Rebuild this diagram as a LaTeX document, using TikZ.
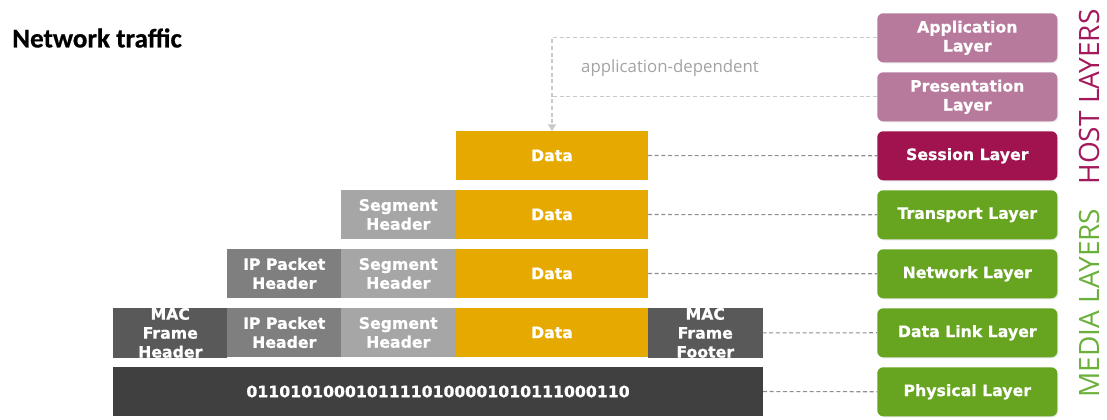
\documentclass[tikz,border=0pt]{standalone}
\usepackage{fontspec}
\setmainfont{DejaVu Sans}
\newfontfamily\boxfont{DejaVu Sans}[BoldFeatures={FakeBold=0.7}]
\newfontfamily\titlefont{Carlito}[BoldFeatures={FakeBold=0.6}]
\newfontfamily\thinfont{Open Sans}
\usetikzlibrary{arrows.meta,shadows}

\definecolor{datayellow}{HTML}{E5A900}
\definecolor{seggray}{HTML}{A6A6A6}
\definecolor{ipgray}{HTML}{7F7F7F}
\definecolor{macgray}{HTML}{595959}
\definecolor{physgray}{HTML}{404040}
\definecolor{hostpink}{HTML}{B77A9C}
\definecolor{sessionred}{HTML}{A0134F}
\definecolor{mediagreen}{HTML}{67A521}
\definecolor{labelgreen}{HTML}{6BB03A}
\definecolor{labelred}{HTML}{A4195B}
\definecolor{linkgray}{HTML}{8E8E8E}
\definecolor{appgray}{HTML}{C9C9C9}
\definecolor{notegray}{HTML}{A3A3A3}

\tikzset{
  boxtext/.style={text=white, align=center,
    font=\boxfont\bfseries\fontsize{11.8}{14.2}\selectfont},
  cell/.style={rectangle, anchor=north west, inner sep=0pt, outer sep=0pt,
    minimum height=49*0.75pt, boxtext},
  hdr/.style={cell, minimum width=114.5*0.75pt},
  datacell/.style={cell, fill=datayellow, minimum width=192*0.75pt},
  layer/.style={rectangle, rounded corners=4.5pt, anchor=north west,
    inner sep=0pt, minimum width=180*0.75pt, minimum height=49*0.75pt, boxtext,
    drop shadow={opacity=0.18, shadow xshift=0.8pt, shadow yshift=-0.8pt}},
  link/.style={draw=linkgray, line width=0.8pt, dash pattern=on 3pt off 2pt},
  applink/.style={draw=appgray, line width=0.8pt, dash pattern=on 3pt off 2pt},
  sidelabel/.style={rotate=90, font=\thinfont\fontsize{21}{24}\selectfont}
}

\begin{document}
\begin{tikzpicture}[x=0.75pt, y=-0.75pt]
\useasboundingbox (0,0) rectangle (1107,419);

% title
\node[anchor=west, inner sep=0pt, font=\titlefont\bfseries\fontsize{20.3}{22}\selectfont]
  (title) at (12,38) {Network traffic};

% OSI layer boxes
\node[layer, fill=hostpink]   (app)  at (877,13)  {Application\\Layer};
\node[layer, fill=hostpink]   (pres) at (877,72)  {Presentation\\Layer};
\node[layer, fill=sessionred] (sess) at (877,131) {Session Layer};
\node[layer, fill=mediagreen] (trans) at (877,190) {Transport Layer};
\node[layer, fill=mediagreen] (net)  at (877,249) {Network Layer};
\node[layer, fill=mediagreen] (dl)   at (877,308) {Data Link Layer};
\node[layer, fill=mediagreen] (phy)  at (877,367) {Physical Layer};

% side labels
\node[sidelabel, text=labelred]   (host)  at (1089,97)  {HOST LAYERS};
\node[sidelabel, text=labelgreen] (media) at (1089,303) {MEDIA LAYERS};

% session row
\node[datacell] (d2) at (456,131) {Data};

% transport row
\node[hdr, fill=seggray] (s3) at (341,190) {Segment\\Header};
\node[datacell] (d3) at (456,190) {Data};

% network row
\node[hdr, fill=ipgray]  (i4) at (227,249) {IP Packet\\Header};
\node[hdr, fill=seggray] (s4) at (341,249) {Segment\\Header};
\node[datacell] (d4) at (456,249) {Data};

% data link row
\begin{scope}
  \clip (113,308) rectangle (227,357);
  \node[hdr, fill=macgray] (m5) at (113,308) {MAC\\Frame\\Header};
\end{scope}
\node[hdr, fill=ipgray]  (i5) at (227,308) {IP Packet\\Header};
\node[hdr, fill=seggray] (s5) at (341,308) {Segment\\Header};
\node[datacell] (d5) at (456,308) {Data};
\begin{scope}
  \clip (648,308) rectangle (763,357);
  \node[hdr, fill=macgray] (f5) at (648,308) {MAC\\Frame\\Footer};
\end{scope}

% physical row
\node[cell, fill=physgray, minimum width=650*0.75pt] (bits) at (113,367)
  {01101010001011110100001010111000110};

% row connectors
\draw[link] (d2.east) -- (sess.west);
\draw[link] (d3.east) -- (trans.west);
\draw[link] (d4.east) -- (net.west);
\draw[link] (f5.east) -- (dl.west);
\draw[link] (bits.east) -- (phy.west);

% application-dependent mapping
\coordinate (appbend) at (d2.north |- app.west);
\coordinate (presjoin) at (d2.north |- pres.west);
\draw[applink, -{Triangle[width=6pt,length=5pt]}] (app.west) -- (appbend) -- (d2.north);
\draw[applink] (pres.west) -- (presjoin);
\node[text=notegray, font=\thinfont\fontsize{12.6}{14}\selectfont, inner sep=0pt]
  (appnote) at (670,68) {application-dependent};
\end{tikzpicture}
\end{document}
